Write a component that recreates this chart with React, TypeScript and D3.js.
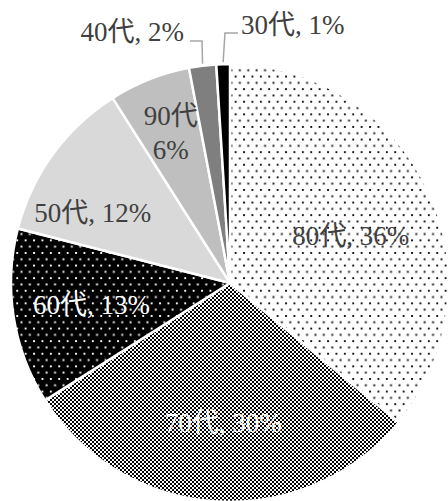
import { useEffect, useRef } from 'react'
import * as d3 from 'd3'

// age groups, clockwise from 12 o'clock
const ageGroups = ['80代', '70代', '60代', '50代', '90代', '40代', '30代']
const shares = [36, 30, 13, 12, 6, 2, 1]

const width = 448
const height = 501

const App = () => {
  const svgRef = useRef<SVGSVGElement | null>(null)

  useEffect(() => {
    const cx = 230
    const cy = 283
    const radius = 219
    const fontSize = 27
    const textDark = '#404040'

    const fills: Record<string, string> = {
      '80代': 'url(#dotsLight)',
      '70代': 'url(#checker)',
      '60代': 'url(#dotsDark)',
      '50代': '#d9d9d9',
      '90代': '#bfbfbf',
      '40代': '#7f7f7f',
      '30代': '#000000',
    }
    const labelColor: Record<string, string> = {
      '80代': textDark,
      '70代': '#ffffff',
      '60代': '#ffffff',
      '50代': textDark,
      '90代': textDark,
    }
    // inside label placement: radius fraction + pixel nudge
    const insideLayout: Record<string, [number, number, number]> = {
      '80代': [0.62, -2, 11],
      '70代': [0.64, 2, 0],
      '60代': [0.64, 0, 0],
      '50代': [0.69, -15, 19],
      '90代': [0.735, 0, 0],
    }
    // outside labels: text anchor point and elbow of leader line
    const outsideLayout: Record<string, { tx: number; ty: number; anchor: string; ex: number; ey: number; hx: number }> = {
      '40代': { tx: 184, ty: 32, anchor: 'end', ex: 202, ey: 41, hx: 190 },
      '30代': { tx: 241, ty: 25, anchor: 'start', ex: 225, ey: 33, hx: 238 },
    }

    const data = ageGroups.map((g, i) => ({ group: g, value: shares[i] }))
    const pie = d3
      .pie<{ group: string; value: number }>()
      .sort(null)
      .value((d) => d.value)
    const arcs = pie(data)
    const arc = d3
      .arc<d3.PieArcDatum<{ group: string; value: number }>>()
      .innerRadius(0)
      .outerRadius(radius)

    const svgEl = d3.select(svgRef.current)
    svgEl.selectAll('*').remove()

    const defs = svgEl.append('defs')
    const dotPattern = (id: string, bg: string, fg: string) => {
      const p = defs
        .append('pattern')
        .attr('id', id)
        .attr('patternUnits', 'userSpaceOnUse')
        .attr('width', 8.4)
        .attr('height', 12.6)
      p.append('rect').attr('width', 8.4).attr('height', 12.6).attr('fill', bg)
      p.append('rect').attr('x', 0.5).attr('y', 0.5).attr('width', 1.9).attr('height', 1.9).attr('fill', fg)
      p.append('rect').attr('x', 4.7).attr('y', 6.8).attr('width', 1.9).attr('height', 1.9).attr('fill', fg)
    }
    dotPattern('dotsLight', '#ffffff', '#111111')
    dotPattern('dotsDark', '#000000', '#ffffff')
    const checker = defs
      .append('pattern')
      .attr('id', 'checker')
      .attr('patternUnits', 'userSpaceOnUse')
      .attr('width', 4)
      .attr('height', 4)
    checker.append('rect').attr('width', 4).attr('height', 4).attr('fill', '#ffffff')
    checker.append('rect').attr('width', 2).attr('height', 2).attr('fill', '#000000')
    checker.append('rect').attr('x', 2).attr('y', 2).attr('width', 2).attr('height', 2).attr('fill', '#000000')

    const g = svgEl.append('g').attr('transform', `translate(${cx},${cy})`)

    // slices
    g.append('g')
      .selectAll('path')
      .data(arcs)
      .join('path')
      .attr('d', arc)
      .attr('fill', (d) => fills[d.data.group])
      .attr('stroke', '#ffffff')
      .attr('stroke-width', 2.5)
      .attr('stroke-linejoin', 'round')

    const font = "'Liberation Serif', 'Times New Roman', 'Noto Sans CJK JP', serif"

    // inside labels
    arcs
      .filter((d) => insideLayout[d.data.group])
      .forEach((d) => {
        const [frac, nx, ny] = insideLayout[d.data.group]
        const r = radius * frac
        const [x, y] = d3.arc<any>().innerRadius(r).outerRadius(r).centroid(d)
        const t = g
          .append('text')
          .attr('x', x + nx)
          .attr('y', y + ny)
          .attr('text-anchor', 'middle')
          .attr('dominant-baseline', 'central')
          .style('font-family', font)
          .style('font-size', `${fontSize}px`)
          .style('fill', labelColor[d.data.group])
        if (d.data.group === '90代') {
          t.append('tspan').attr('x', x + nx).attr('dy', -17).text(d.data.group)
          t.append('tspan').attr('x', x + nx).attr('dy', 34).text(`${d.data.value}%`)
        } else {
          t.text(`${d.data.group}, ${d.data.value}%`)
        }
      })

    // outside labels with leader lines
    arcs
      .filter((d) => outsideLayout[d.data.group])
      .forEach((d) => {
        const o = outsideLayout[d.data.group]
        const [px, py] = d3.arc<any>().innerRadius(radius).outerRadius(radius).centroid(d)
        g.append('polyline')
          .attr('points', `${px},${py - 2} ${o.ex - cx},${o.ey - cy} ${o.hx - cx},${o.ey - cy}`)
          .attr('fill', 'none')
          .attr('stroke', '#a6a6a6')
          .attr('stroke-width', 1.5)
        g.append('text')
          .attr('x', o.tx - cx)
          .attr('y', o.ty - cy)
          .attr('text-anchor', o.anchor)
          .attr('dominant-baseline', 'central')
          .style('font-family', font)
          .style('font-size', `${fontSize}px`)
          .style('fill', textDark)
          .text(`${d.data.group}, ${d.data.value}%`)
      })
  }, [])

  return (
    <svg
      ref={svgRef}
      width={width}
      height={height}
      style={{ position: 'absolute', left: 0, top: 0, background: '#ffffff' }}
    />
  )
}

export default App
